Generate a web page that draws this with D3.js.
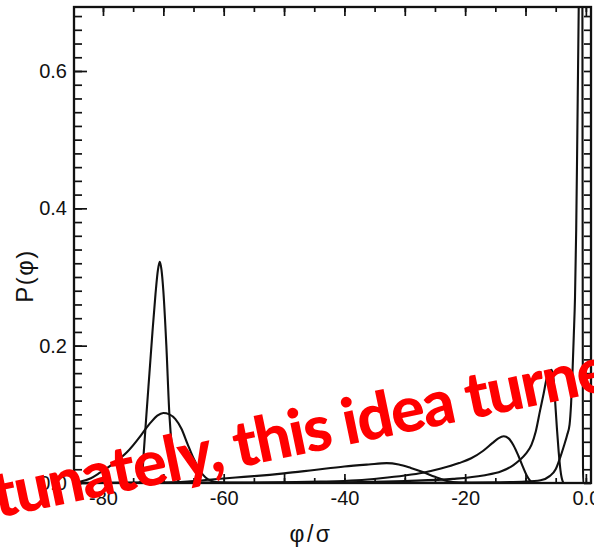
<!DOCTYPE html>
<html>
<head>
<meta charset="utf-8">
<script src="https://cdn.jsdelivr.net/npm/d3@7"></script>
<style>
  html, body { margin: 0; padding: 0; background: #fff; }
  svg { display: block; }
</style>
</head>
<body>
<svg id="chart" width="594" height="551"></svg>
<script>
// ---- data ----
const xLabelTicks = [-80, -60, -40, -20, 0];
const xLabelText = ["-80", "-60", "-40", "-20", "0.0"];
const yLabelTicks = [0, 0.2, 0.4, 0.6];
const yLabelText = ["0.0", "0.2", "0.4", "0.6"];
const xTitle = "φ/σ";
const yTitle = "P(φ)";
const overlayText = "Unfortunately, this idea turned out";

// [φ/σ, P(φ)]
const curveNarrow70 = [[-84.8,0],[-74.2,0],[-73.6,0.004],[-73.2,0.05],[-72.8,0.1],[-72.3,0.16],[-71.8,0.22],[-71.3,0.275],[-70.9,0.31],[-70.6,0.322],[-70.3,0.31],[-70.0,0.28],[-69.5,0.2],[-69.0,0.1],[-68.5,0.045],[-68.0,0.012],[-67.5,0.003],[-67.0,0],[0.85,0]];
const curveBroad70 = [[-84.8,0.0005],[-84,0.0015],[-82,0.007],[-80.5,0.015],[-78,0.03],[-76,0.045],[-74,0.066],[-73,0.078],[-72,0.089],[-71,0.098],[-70,0.102],[-69,0.1],[-68,0.093],[-67,0.079],[-66,0.057],[-65,0.036],[-64,0.019],[-63,0.008],[-62,0.003],[-61,0.001],[-59,0],[0.85,0]];
const curveHump33 = [[-84.8,0],[-70,0.0005],[-66,0.002],[-62,0.005],[-58,0.008],[-55,0.010],[-50,0.014],[-45,0.019],[-40,0.024],[-36,0.027],[-33,0.029],[-31,0.027],[-29,0.022],[-27,0.016],[-25,0.009],[-23,0.003],[-21,0.0005],[-19,0],[0.85,0]];
const curvePeak13 = [[-84.8,0],[-60,0.0005],[-50,0.001],[-44,0.002],[-38,0.004],[-34,0.007],[-30,0.011],[-27,0.015],[-24,0.021],[-21,0.029],[-19,0.036],[-17,0.047],[-15.5,0.058],[-14.5,0.065],[-13.6,0.068],[-12.8,0.065],[-12,0.055],[-11.2,0.04],[-10.5,0.025],[-9.8,0.011],[-9.2,0.003],[-8.6,0],[0.85,0]];
const curvePeak6 = [[-84.8,0],[-50,0.0005],[-40,0.001],[-30,0.003],[-22,0.006],[-17,0.011],[-14,0.017],[-12,0.026],[-11,0.033],[-10,0.042],[-9,0.056],[-8.3,0.075],[-7.6,0.105],[-7,0.13],[-6.5,0.152],[-6,0.163],[-5.7,0.165],[-5.4,0.155],[-5.1,0.12],[-4.8,0.08],[-4.5,0.045],[-4.2,0.018],[-3.9,0.004],[-3.6,0],[0.85,0]];
const curveSpike0 = [[-84.8,0],[-30,0],[-15,0.001],[-10,0.002],[-7.5,0.004],[-6,0.01],[-5,0.02],[-4.3,0.036],[-3.6,0.055],[-3.1,0.07],[-2.7,0.085],[-2.45,0.115],[-2.2,0.165],[-2.0,0.215],[-1.8,0.27],[-1.6,0.37],[-1.45,0.48],[-1.3,0.6],[-1.15,0.72],[-1.0,0.85],[-0.8,0.95],[-0.6,0.85],[-0.55,0.5],[-0.5,0.1],[-0.45,0],[0.85,0]];
const curves = [curveBroad70, curveNarrow70, curveHump33, curvePeak13, curvePeak6, curveSpike0];

// ---- layout ----
const svg = d3.select("#chart");
svg.append("rect").attr("width", 594).attr("height", 551).attr("fill", "#fff");

const L = 74, R = 591, T = 7, B = 483;
const x = d3.scaleLinear().domain([-84.8, 0.85]).range([L, R]);
const y = d3.scaleLinear().domain([0, 0.6932]).range([B, T]);

const ink = "#111";
const fontFam = "'Liberation Sans', Arial, Helvetica, sans-serif";

svg.append("clipPath").attr("id", "plotclip")
  .append("rect").attr("x", L).attr("y", T).attr("width", R - L).attr("height", B - T);

// curves
const line = d3.line().x(d => x(d[0])).y(d => y(d[1])).curve(d3.curveMonotoneX);
svg.append("g").attr("clip-path", "url(#plotclip)")
  .selectAll("path").data(curves).join("path")
  .attr("d", line).attr("fill", "none").attr("stroke", ink)
  .attr("stroke-width", 2.1).attr("stroke-linejoin", "round");

// ticks
const xMinor = d3.range(-80, 1, 5);
const xMajor = d3.range(-80, 1, 10);
const yMinor = d3.range(0, 35).map(i => +(i * 0.02).toFixed(2));

function styleAxis(g) {
  g.select(".domain").remove();
  g.selectAll(".tick line").attr("stroke", ink).attr("stroke-width", 1.7);
  g.selectAll("text").attr("fill", ink).attr("font-family", fontFam).attr("font-size", 20);
}

// bottom
svg.append("g").attr("transform", `translate(0,${B})`)
  .call(d3.axisBottom(x).tickValues(xMinor).tickSize(-5).tickFormat("")).call(styleAxis);
svg.append("g").attr("transform", `translate(0,${B})`)
  .call(d3.axisBottom(x).tickValues(xMajor).tickSize(-9).tickFormat("")).call(styleAxis);
svg.append("g").attr("transform", `translate(0,${B})`)
  .call(d3.axisBottom(x).tickValues(xLabelTicks).tickSize(0).tickPadding(8)
    .tickFormat((d, i) => xLabelText[i])).call(styleAxis);
// top
svg.append("g").attr("transform", `translate(0,${T})`)
  .call(d3.axisTop(x).tickValues(xMinor).tickSize(-5).tickFormat("")).call(styleAxis);
svg.append("g").attr("transform", `translate(0,${T})`)
  .call(d3.axisTop(x).tickValues(xMajor).tickSize(-9).tickFormat("")).call(styleAxis);
// left
svg.append("g").attr("transform", `translate(${L},0)`)
  .call(d3.axisLeft(y).tickValues(yMinor).tickSize(-8).tickFormat("")).call(styleAxis);
svg.append("g").attr("transform", `translate(${L},0)`)
  .call(d3.axisLeft(y).tickValues(yLabelTicks).tickSize(-13).tickPadding(-6)
    .tickFormat((d, i) => yLabelText[i])).call(styleAxis)
  .selectAll("text").attr("x", -7);
// right
svg.append("g").attr("transform", `translate(${R},0)`)
  .call(d3.axisRight(y).tickValues(yMinor).tickSize(-7).tickFormat("")).call(styleAxis);

// frame
svg.append("rect").attr("x", L).attr("y", T).attr("width", R - L).attr("height", B - T)
  .attr("fill", "none").attr("stroke", ink).attr("stroke-width", 2.3);

// axis titles
svg.append("text").attr("x", 311).attr("y", 542).attr("text-anchor", "middle")
  .attr("font-family", fontFam).attr("font-size", 23).attr("letter-spacing", 2.5)
  .attr("fill", ink).text(xTitle);
svg.append("text").attr("transform", "translate(33,276) rotate(-90)").attr("text-anchor", "middle")
  .attr("font-family", fontFam).attr("font-size", 24).attr("letter-spacing", 1.5)
  .attr("fill", ink).text(yTitle);

// red overlay sentence
const ov = svg.append("text")
  .attr("font-family", "Lato, 'Open Sans', sans-serif").attr("font-weight", 900)
  .attr("fill", "#ff0000").attr("font-size", 60).text(overlayText);
const node = ov.node();
const span60 = node.getSubStringLength(5, 24);
const fs = 60 * 596 / span60 * 1.07;
ov.attr("font-size", fs);
const spanNow = node.getSubStringLength(5, 24);
ov.attr("letter-spacing", (596 - spanNow) / 24);
const pre = node.getSubStringLength(0, 5);
ov.attr("x", -pre).attr("y", 0)
  .attr("transform", "translate(-3,518) rotate(-11.8)");
</script>
</body>
</html>
